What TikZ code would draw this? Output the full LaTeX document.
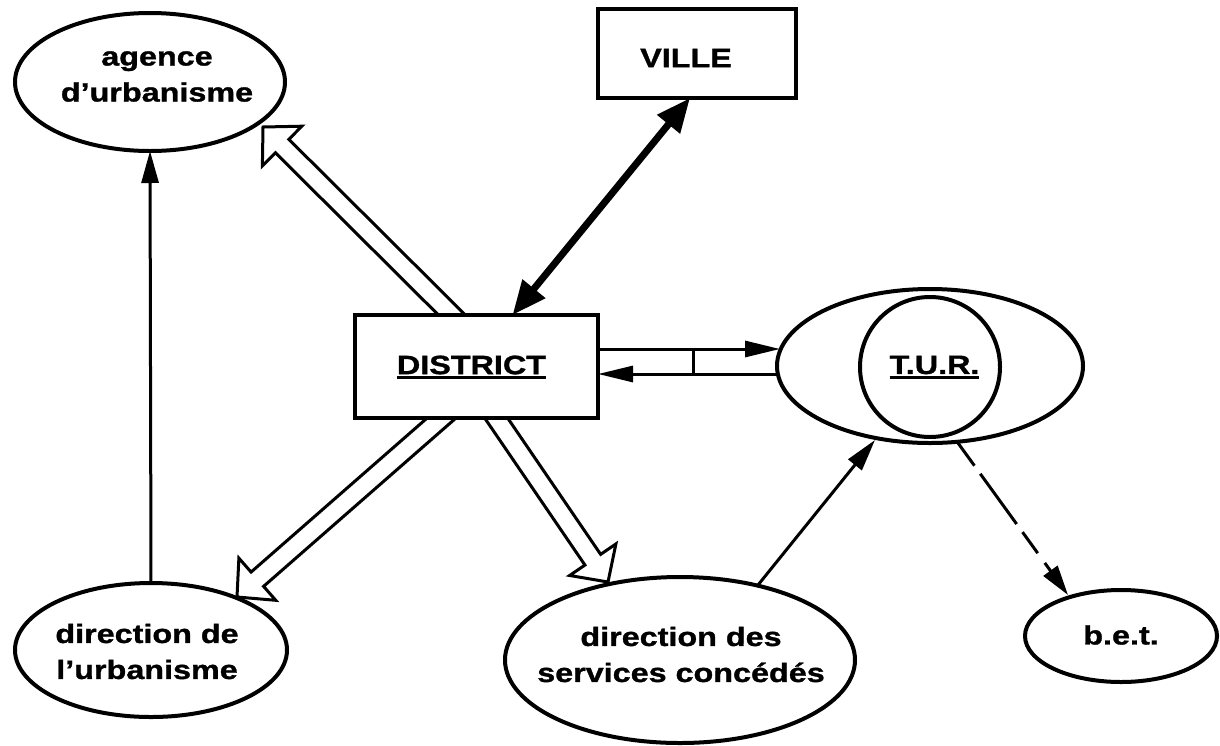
\documentclass[tikz,border=0pt]{standalone}
\usepackage{fontspec}
\newfontfamily\lbfont{Liberation Sans}[FakeStretch=1.22,FakeBold=1.2]
\usetikzlibrary{shapes.geometric,arrows.meta,calc,backgrounds}

% underlined word with a heavy rule that does not change the box size
\newcommand\ulword[1]{\setbox0\hbox{#1}\rlap{\smash{\rule[-5pt]{\wd0}{3pt}}}\box0}

% wide open arrow: two parallel shaft lines and a white triangular head
% #1 = tail, #2 = tip
\newcommand\hollowarrow[2]{%
  \coordinate (ha-s) at #1;
  \coordinate (ha-e) at #2;
  \coordinate (ha-b) at ($(ha-e)!27pt!(ha-s)$);
  \draw[hollow]
    ($(ha-s)!9.5pt!90:(ha-e)$) -- ($(ha-b)!9.5pt!90:(ha-e)$)
    -- ($(ha-b)!28pt!90:(ha-e)$) -- (ha-e)
    -- ($(ha-b)!28pt!-90:(ha-e)$) -- ($(ha-b)!9.5pt!-90:(ha-e)$)
    -- ($(ha-s)!9.5pt!-90:(ha-e)$);
}

\begin{document}
\begin{tikzpicture}[x=1pt,y=-1pt,
  lbl/.style={font=\lbfont\bfseries\fontsize{26.5}{36}\selectfont, align=center, inner sep=0pt},
  oval/.style={draw, ellipse, line width=4pt, fill=white, inner sep=0pt, outer sep=0pt},
  box/.style={draw, rectangle, line width=4pt, fill=white, inner sep=0pt, outer sep=0pt},
  thinarrow/.style={line width=3pt, -{Triangle[length=32pt,width=17pt]}},
  pairarrow/.style={line width=3pt, -{Triangle[length=35pt,width=16pt]}},
  heavyarrow/.style={line width=7pt, {Triangle[length=34pt,width=28pt]}-{Triangle[length=34pt,width=28pt]}},
  dashline/.style={line width=3pt, dash pattern=on 28pt off 10pt on 62pt off 10pt on 26pt off 12pt,
                   -{Triangle[length=30pt,width=17pt]}},
  hollow/.style={line width=3pt, fill=white, line join=miter},
]
\useasboundingbox (0,0) rectangle (1220,745);

% the organisations
\node[oval, minimum width=270pt, minimum height=138pt,
      label={[lbl, xshift=7pt, yshift=5.5pt]center:{agence\\d’urbanisme}}] (agence) at (150,82) {};
\node[box, minimum width=198pt, minimum height=89pt,
      label={[lbl, xshift=-11pt, yshift=-4.5pt]center:{VILLE}}] (ville) at (697,53.5) {};
\node[box, minimum width=243pt, minimum height=103pt,
      label={[lbl, xshift=-5pt, yshift=1.5pt]center:{\ulword{DISTRICT}}}] (district) at (476.5,366.5) {};
\node[oval, minimum width=306pt, minimum height=154pt] (tur) at (930,366) {};
\node[draw, circle, line width=4pt, fill=white, minimum size=140pt, inner sep=0pt, outer sep=0pt,
      label={[lbl, xshift=4.5pt, yshift=2pt]center:{\ulword{T.U.R.}}}] (turcore) at (930,367) {};
\node[oval, minimum width=272pt, minimum height=134pt,
      label={[lbl, xshift=-4pt, yshift=-1.5pt]center:{direction de\\l’urbanisme}}] (dirurb) at (151,650) {};
\node[oval, minimum width=350pt, minimum height=166pt,
      label={[lbl, xshift=1pt, yshift=5.5pt]center:{direction des\\services concédés}}] (dirsvc) at (680,660) {};
\node[oval, minimum width=192pt, minimum height=92pt,
      label={[lbl, yshift=1pt]center:{b.e.t.}}] (bet) at (1121,636) {};

% relations between them
\begin{scope}[on background layer]
  \draw[heavyarrow] ($(district.north)+(36,0)$) -- ($(ville.south)+(-7,0)$);

  \hollowarrow{($(district.center)+(-5,-32)$)}{($(agence.center)+(113,45)$)}
  \hollowarrow{($(district.center)+(-7.5,27.5)$)}{($(dirurb.center)+(86,-53)$)}
  \hollowarrow{($(district.center)+(-1.5,20.5)$)}{($(dirsvc.center)+(-72,-78)$)}

  \draw[thinarrow] (dirurb.north) -- (agence.south);
  \draw[thinarrow] ($(dirsvc.center)+(78,-75)$) -- ($(tur.center)+(-55,74)$);
  \draw[dashline] ($(tur.center)+(28,77)$) -- ($(bet.center)+(-53,-41)$);

  \draw[pairarrow] ($(district.east)+(0,-17.5)$) -- ($(tur.west)+(3,-17)$);
  \draw[pairarrow] ($(tur.west)+(2,8)$) -- ($(district.east)+(0,7.5)$);
  \draw[line width=3pt] ($(district.east)+(95,-17.5)$) -- ($(district.east)+(95,7.5)$);
\end{scope}
\end{tikzpicture}
\end{document}
